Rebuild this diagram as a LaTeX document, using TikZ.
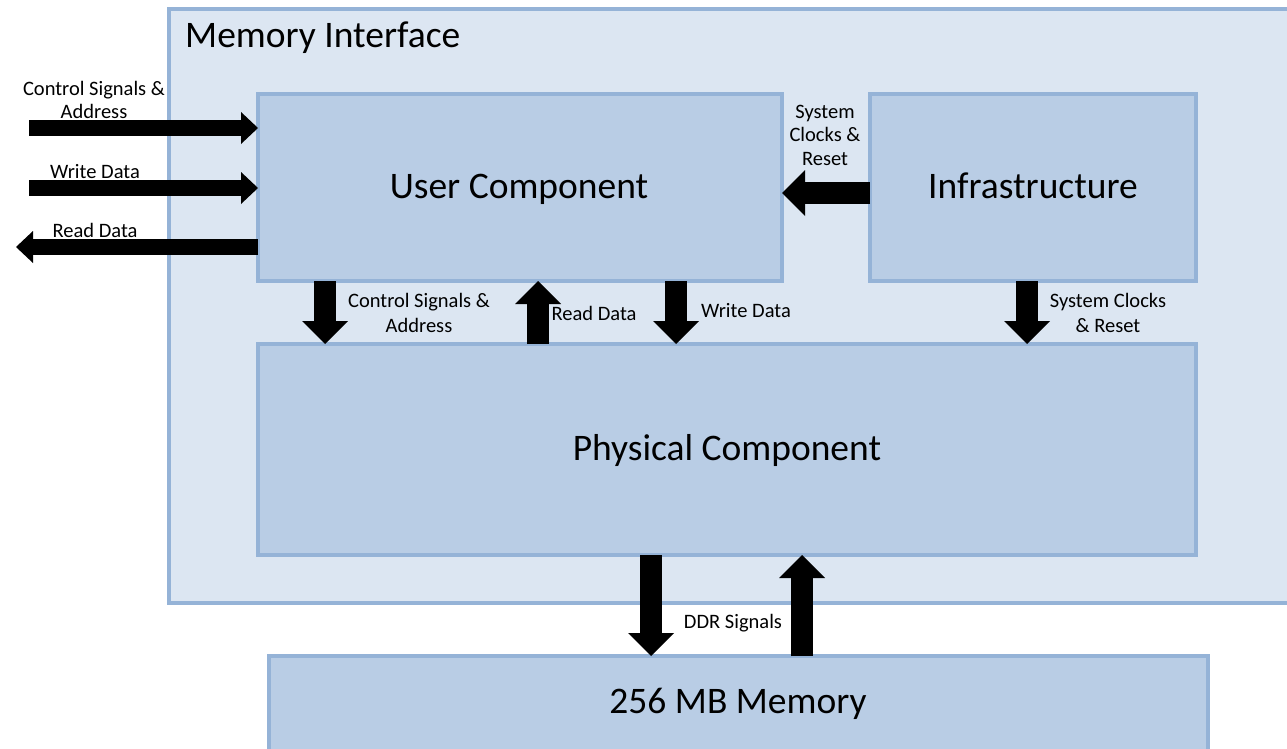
\documentclass[tikz,border=0pt]{standalone}
\usepackage{fontspec}
\setmainfont{Carlito}
\usetikzlibrary{arrows.meta}
\definecolor{outerfill}{RGB}{220,230,242}
\definecolor{innerfill}{RGB}{185,205,229}
\definecolor{edge}{RGB}{149,179,215}
\begin{document}
\begin{tikzpicture}[x=1pt,y=-1pt,
  box/.style={draw=edge, line width=4pt, fill=innerfill, inner sep=0pt, outer sep=0pt},
  big/.style={font=\fontsize{37.5}{42}\selectfont, inner sep=0pt},
  small/.style={font=\fontsize{20.5}{24}\selectfont, inner sep=0pt},
  fat/.style={line width=22pt, -{Triangle[length=23pt,width=46pt,line width=0pt]}},
  slim/.style={line width=16pt, -{Triangle[length=17pt,width=32pt,line width=0pt]}}]
\useasboundingbox (0,0) rectangle (1287,749);
\fill[white] (0,0) rectangle (1287,749);

% blocks
\node[box, fill=outerfill, minimum width=1151pt, minimum height=594pt, anchor=north west] (mi) at (169,9) {};
\node[box, minimum width=524pt, minimum height=187pt] (user) at (520,187.5) {};
\node[box, minimum width=326pt, minimum height=187pt] (infra) at (1033,187.5) {};
\node[box, minimum width=938pt, minimum height=211pt] (phys) at (727,449.5) {};
\node[box, minimum width=939pt, minimum height=150pt, anchor=north] (mem) at (738.5,656) {};

% block titles
\node[big, anchor=base west] (mitxt) at (185,48) {Memory Interface};
\node[big, anchor=base] (usertxt) at (519,198) {User Component};
\node[big, anchor=base] (infratxt) at (1033,198) {Infrastructure};
\node[big, anchor=base] (phystxt) at (727,460) {Physical Component};
\node[big, anchor=base] (memtxt) at (738,713) {256 MB Memory};

% external interface
\coordinate (inA) at (29,128);
\coordinate (inW) at (29,188);
\coordinate (outR) at (16,247);
\draw[slim] (inA) -- (inA -| user.west);
\draw[slim] (inW) -- (inW -| user.west);
\draw[slim] (outR -| user.west) -- (outR);
\node[small, anchor=base] (lA1) at (94,96) {Control Signals \&};
\node[small, anchor=base] (lA2) at (94,119) {Address};
\node[small, anchor=base] (lW) at (95,178) {Write Data};
\node[small, anchor=base] (lR) at (95,237) {Read Data};

% clocks from infrastructure to user component
\coordinate (clk) at (0,193);
\draw[fat] (clk -| infra.west) -- (clk -| user.east);
\node[small, anchor=base] (lC1) at (825,118) {System};
\node[small, anchor=base] (lC2) at (825,142) {Clocks \&};
\node[small, anchor=base] (lC3) at (825,165) {Reset};

% user component <-> physical component
\coordinate (xA) at (325,0);
\coordinate (xR) at (538,0);
\coordinate (xW) at (676,0);
\coordinate (xC) at (1027,0);
\draw[fat] (xA |- user.south) -- (xA |- phys.north);
\draw[fat] (xR |- phys.north) -- (xR |- user.south);
\draw[fat] (xW |- user.south) -- (xW |- phys.north);
\draw[fat] (xC |- infra.south) -- (xC |- phys.north);
\node[small, anchor=base] (lU1) at (419,307) {Control Signals \&};
\node[small, anchor=base] (lU2) at (419,332) {Address};
\node[small, anchor=base] (lUR) at (594,320) {Read Data};
\node[small, anchor=base] (lUW) at (746,317) {Write Data};
\node[small, anchor=base] (lI1) at (1108,307) {System Clocks};
\node[small, anchor=base] (lI2) at (1108,332) {\& Reset};

% physical component <-> memory
\coordinate (xD) at (651,0);
\coordinate (xU) at (802,0);
\draw[fat] (xD |- phys.south) -- (xD |- mem.north);
\draw[fat] (xU |- mem.north) -- (xU |- phys.south);
\node[small, anchor=base] (lD) at (733,628) {DDR Signals};
\end{tikzpicture}
\end{document}
